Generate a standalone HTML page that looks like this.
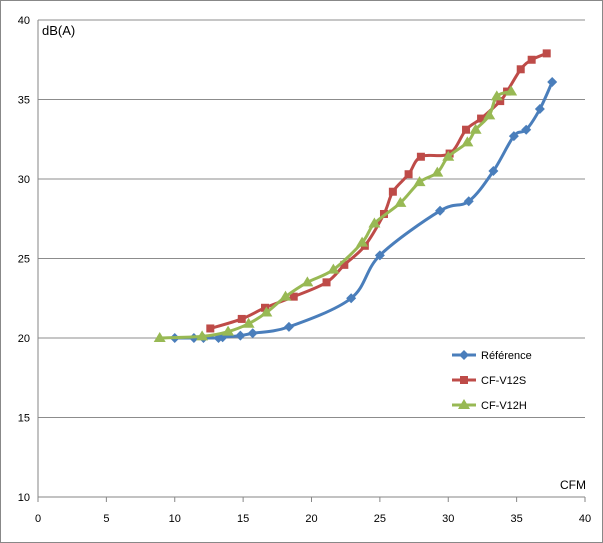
<!DOCTYPE html>
<html><head><meta charset="utf-8"><style>
body{margin:0;background:#fff}
svg{display:block;font-family:"Liberation Sans",sans-serif}
</style></head><body>
<svg id="chart" width="603" height="543">
<rect x="0.5" y="0.5" width="602" height="542" fill="#fff" stroke="#888"/>
<g id="grid"></g><g id="series"></g><g id="legend"></g>
<text x="42" y="35" font-size="13">dB(A)</text>
<text x="560" y="489" font-size="12">CFM</text>
</svg>
<script>
const xTicks=[0,5,10,15,20,25,30,35,40];
const yTicks=[10,15,20,25,30,35,40];
const refX=[10.0,11.4,12.1,13.2,13.5,14.8,15.7,18.35,22.9,25.0,29.4,31.5,33.3,34.8,35.7,36.7,37.6];
const refY=[20.0,20.0,20.0,20.0,20.05,20.15,20.3,20.7,22.5,25.2,28.0,28.6,30.5,32.7,33.1,34.4,36.1];
const sX=[12.6,14.9,16.6,18.7,21.1,22.4,23.9,25.3,25.95,27.1,28.0,30.1,31.3,32.4,33.8,34.3,35.3,36.1,37.2];
const sY=[20.6,21.2,21.9,22.6,23.5,24.6,25.8,27.8,29.2,30.3,31.4,31.6,33.1,33.8,34.9,35.5,36.9,37.5,37.9];
const hX=[8.9,12.0,13.9,15.4,16.7,18.1,19.7,21.6,23.7,24.6,26.5,27.9,29.2,30.0,31.4,32.0,33.0,33.55,34.6];
const hY=[20.0,20.1,20.4,20.9,21.6,22.6,23.5,24.3,26.0,27.2,28.5,29.8,30.4,31.4,32.3,33.1,34.0,35.2,35.5];
const NS="http://www.w3.org/2000/svg";
const X=v=>38+v*(547/40), Y=v=>497-(v-10)*(477/30);
function mk(t,a,p){const e=document.createElementNS(NS,t);for(const k in a)e.setAttribute(k,a[k]);p.appendChild(e);return e;}
const grid=document.getElementById('grid');
for(const t of yTicks){
 const g=mk('line',{x1:38,x2:585,y1:Y(t),y2:Y(t),stroke:t===10?'#868686':'#8c8c8c','stroke-width':1},grid);
 
 
 const l=mk('text',{x:30,y:Y(t)+4,'text-anchor':'end','font-size':11},grid);l.textContent=t;
 
 
}
const ax=mk('line',{x1:38,x2:38,y1:20,y2:497,stroke:'#868686'},grid);


for(const t of xTicks){
 const l=mk('text',{x:X(t),y:522,'text-anchor':'middle','font-size':11},grid);l.textContent=t;
 
 
 const tk=mk('line',{x1:X(t),x2:X(t),y1:497,y2:502,stroke:'#868686'},grid);
 
 
}
function path(xs,ys){const p=xs.map((x,i)=>[X(x),Y(ys[i])]);let d='M'+p[0];
 for(let i=0;i<p.length-1;i++){const p0=p[Math.max(0,i-1)],p1=p[i],p2=p[i+1],p3=p[Math.min(p.length-1,i+2)],k=1/6;
  d+=` C${p1[0]+(p2[0]-p0[0])*k},${p1[1]+(p2[1]-p0[1])*k} ${p2[0]-(p3[0]-p1[0])*k},${p2[1]-(p3[1]-p1[1])*k} ${p2[0]},${p2[1]}`;}
 return d;}
function marker(shape,x,y,c,p){
 if(shape==='d')return mk('polygon',{points:`${x},${y-5} ${x+5},${y} ${x},${y+5} ${x-5},${y}`,fill:c},p);
 if(shape==='s')return mk('rect',{x:x-4,y:y-4,width:8,height:8,fill:c},p);
 return mk('polygon',{points:`${x},${y-6} ${x+6},${y+4} ${x-6},${y+4}`,fill:c},p);}
const series=[['reference',refX,refY,'#4a7ebb','d','Référence'],['cf-v12s',sX,sY,'#be4b48','s','CF-V12S'],['cf-v12h',hX,hY,'#98b954','t','CF-V12H']];
const sg=document.getElementById('series'),lg=document.getElementById('legend');
series.forEach(([n,xs,ys,c,sh,lab],j)=>{
 const g=mk('g',{},sg);
 
 
 const pl=mk('path',{d:path(xs,ys),fill:'none',stroke:c,'stroke-width':3},g);
 
 
 xs.forEach((x,i)=>{const m=marker(sh,X(x),Y(ys[i]),c,g);
  
  });
 const ly=355+j*25;
 const le=mk('g',{},lg);
 
 
 mk('line',{x1:452,x2:476,y1:ly,y2:ly,stroke:c,'stroke-width':3},le);
 marker(sh,464,ly,c,le);
 const t=mk('text',{x:481,y:ly+4,'font-size':11},le);t.textContent=lab;
});
</script>
</body></html>
